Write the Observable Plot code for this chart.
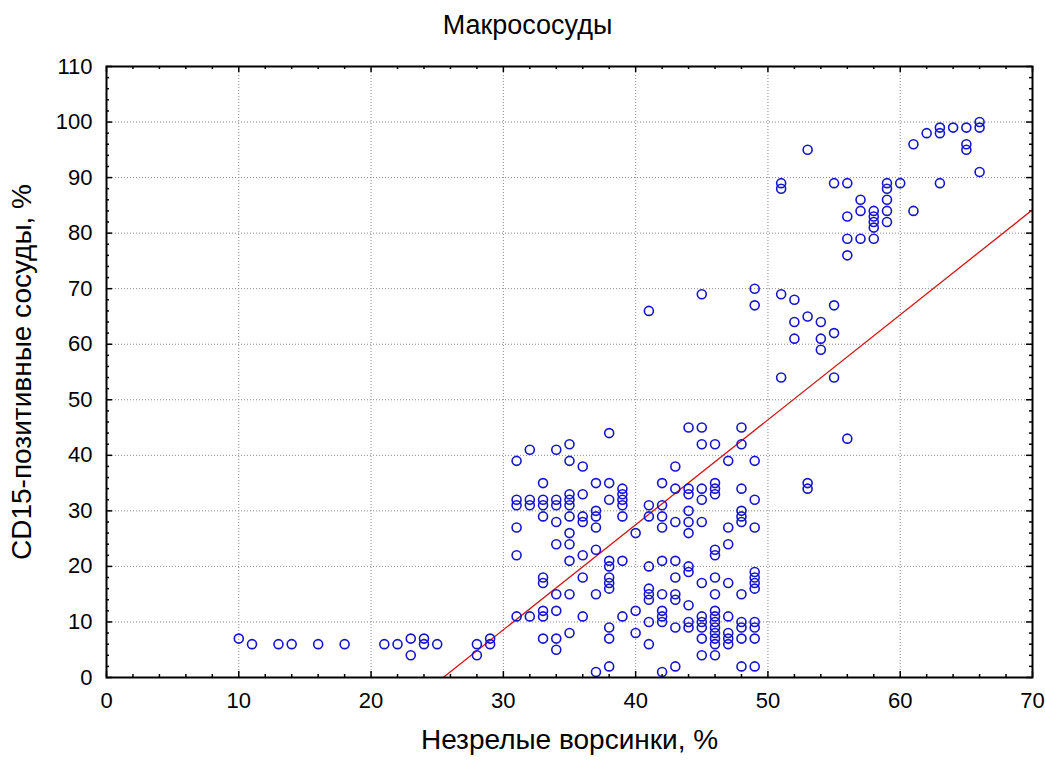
<!DOCTYPE html>
<html>
<head>
<meta charset="utf-8">
<script src="https://cdn.jsdelivr.net/npm/d3@7"></script>
<script src="https://cdn.jsdelivr.net/npm/@observablehq/plot@0.6"></script>
<style>
  body { margin: 0; background: #fff; }
  #chart { width: 1045px; font-family: "Liberation Sans", Arial, sans-serif; color: #000; }
  #title { height: 50px; line-height: 50px; text-align: center; font-size: 27px; padding-left: 10px; }
</style>
</head>
<body>
<div id="chart"><div id="title">Макрососуды</div></div>
<script>
// Immature villi (%) levels and the CD15-positive vessel values (%) observed at each level
const villiLevels = [10, 11, 13, 14, 16, 18, 21, 22, 23, 24, 25, 28, 29,
  31, 32, 33, 34, 35, 36, 37, 38, 39, 40, 41, 42, 43, 44, 45, 46, 47, 48, 49,
  51, 52, 53, 54, 55, 56, 57, 58, 59, 60, 61, 62, 63, 64, 65, 66];
const cd15ByLevel = [
  [7], [6], [6], [6], [6], [6], [6], [6], [7, 4], [7, 6], [6], [6, 4], [7, 6],
  [39, 32, 31, 27, 22, 11],
  [41, 32, 31, 11],
  [35, 32, 31, 29, 18, 17, 12, 11, 7],
  [41, 32, 31, 28, 24, 15, 12, 7, 5],
  [42, 39, 33, 32, 31, 29, 26, 24, 21, 15, 8],
  [38, 33, 29, 28, 22, 18, 11],
  [35, 30, 29, 27, 23, 15, 1],
  [44, 35, 32, 21, 20, 18, 17, 16, 9, 7, 2],
  [34, 33, 32, 31, 29, 21, 11],
  [26, 12, 8],
  [66, 31, 29, 20, 16, 15, 14, 10, 6],
  [35, 31, 29, 27, 21, 15, 12, 11, 10, 1],
  [38, 34, 28, 21, 18, 15, 14, 9, 2],
  [45, 34, 33, 30, 28, 26, 20, 19, 13, 10, 9],
  [69, 45, 42, 34, 32, 28, 17, 11, 10, 9, 7, 4],
  [42, 35, 34, 33, 23, 22, 18, 15, 12, 11, 10, 9, 8, 7, 6, 4],
  [39, 27, 24, 17, 11, 8, 7, 6],
  [45, 42, 34, 30, 29, 28, 15, 10, 9, 7, 2],
  [70, 67, 39, 32, 27, 19, 18, 17, 16, 10, 9, 7, 2],
  [89, 88, 69, 54],
  [68, 64, 61],
  [95, 65, 35, 34],
  [64, 61, 59],
  [89, 67, 62, 54],
  [89, 83, 79, 76, 43],
  [86, 84, 79],
  [84, 83, 82, 81, 79],
  [89, 88, 86, 84, 82],
  [89],
  [96, 84],
  [98],
  [99, 98, 89],
  [99],
  [99, 96, 95],
  [100, 99, 91]
];

// Fitted linear regression: CD15 = intercept + slope * villi
const fitIntercept = -48.1;
const fitSlope = 1.89;

// Axis ticks
const xMajor = [0, 10, 20, 30, 40, 50, 60, 70];
const yMajor = [0, 10, 20, 30, 40, 50, 60, 70, 80, 90, 100, 110];
const xMinor = d3.range(0, 71, 2).filter(v => v % 10 !== 0);
const yMinor = d3.range(0, 111, 2).filter(v => v % 10 !== 0);

const xLabel = "Незрелые ворсинки, %";
const yLabel = "CD15-позитивные сосуды, %";

const points = villiLevels.flatMap((v, i) => cd15ByLevel[i].map(c => ({villi: v, cd15: c})));
const fitEnds = [0, 70].map(v => ({villi: v, cd15: fitIntercept + fitSlope * v}));

const W = 1045, H = 716;
const mt = 16, mb = 89, ml = 106, mr = 13;
const innerW = W - ml - mr, innerH = H - mt - mb;
const majorLen = 6, minorLen = 3;
const tickStyle = {stroke: "#000", strokeWidth: 1.5};
const gridStyle = {stroke: "#8a8a8a", strokeOpacity: 1, strokeWidth: 1, strokeDasharray: "1,2"};

const chart = Plot.plot({
  width: W,
  height: H,
  marginTop: mt,
  marginBottom: mb,
  marginLeft: ml,
  marginRight: mr,
  style: {fontFamily: "'Liberation Sans', Arial, sans-serif", fontSize: "22px", color: "#000", background: "#fff", overflow: "visible"},
  x: {domain: [0, 70]},
  y: {domain: [0, 110]},
  marks: [
    Plot.gridX(xMajor, gridStyle),
    Plot.gridY(yMajor, gridStyle),
    // inward ticks on all four sides
    Plot.tickX(xMajor, {x: d => d, insetTop: innerH - majorLen, ...tickStyle}),
    Plot.tickX(xMajor, {x: d => d, insetBottom: innerH - majorLen, ...tickStyle}),
    Plot.tickX(xMinor, {x: d => d, insetTop: innerH - minorLen, ...tickStyle}),
    Plot.tickX(xMinor, {x: d => d, insetBottom: innerH - minorLen, ...tickStyle}),
    Plot.tickY(yMajor, {y: d => d, insetRight: innerW - majorLen, ...tickStyle}),
    Plot.tickY(yMajor, {y: d => d, insetLeft: innerW - majorLen, ...tickStyle}),
    Plot.tickY(yMinor, {y: d => d, insetRight: innerW - minorLen, ...tickStyle}),
    Plot.tickY(yMinor, {y: d => d, insetLeft: innerW - minorLen, ...tickStyle}),
    Plot.axisX(xMajor, {tickSize: 0, tickPadding: 15, label: null, fontSize: 22}),
    Plot.axisY(yMajor, {tickSize: 0, tickPadding: 14, label: null, fontSize: 22}),
    Plot.line(fitEnds, {x: "villi", y: "cd15", stroke: "#d41414", strokeWidth: 1.3, clip: true}),
    Plot.dot(points, {x: "villi", y: "cd15", r: 4.5, fill: "none", stroke: "#1414cc", strokeWidth: 1.6}),
    Plot.frame({stroke: "#000", strokeWidth: 2}),
    Plot.text([xLabel], {text: d => d, frameAnchor: "bottom", dy: 71, fontSize: 28}),
    Plot.text([yLabel], {text: d => d, frameAnchor: "left", textAnchor: "middle", dx: -84, rotate: -90, fontSize: 28})
  ]
});

document.getElementById("chart").appendChild(chart);
</script>
</body>
</html>
